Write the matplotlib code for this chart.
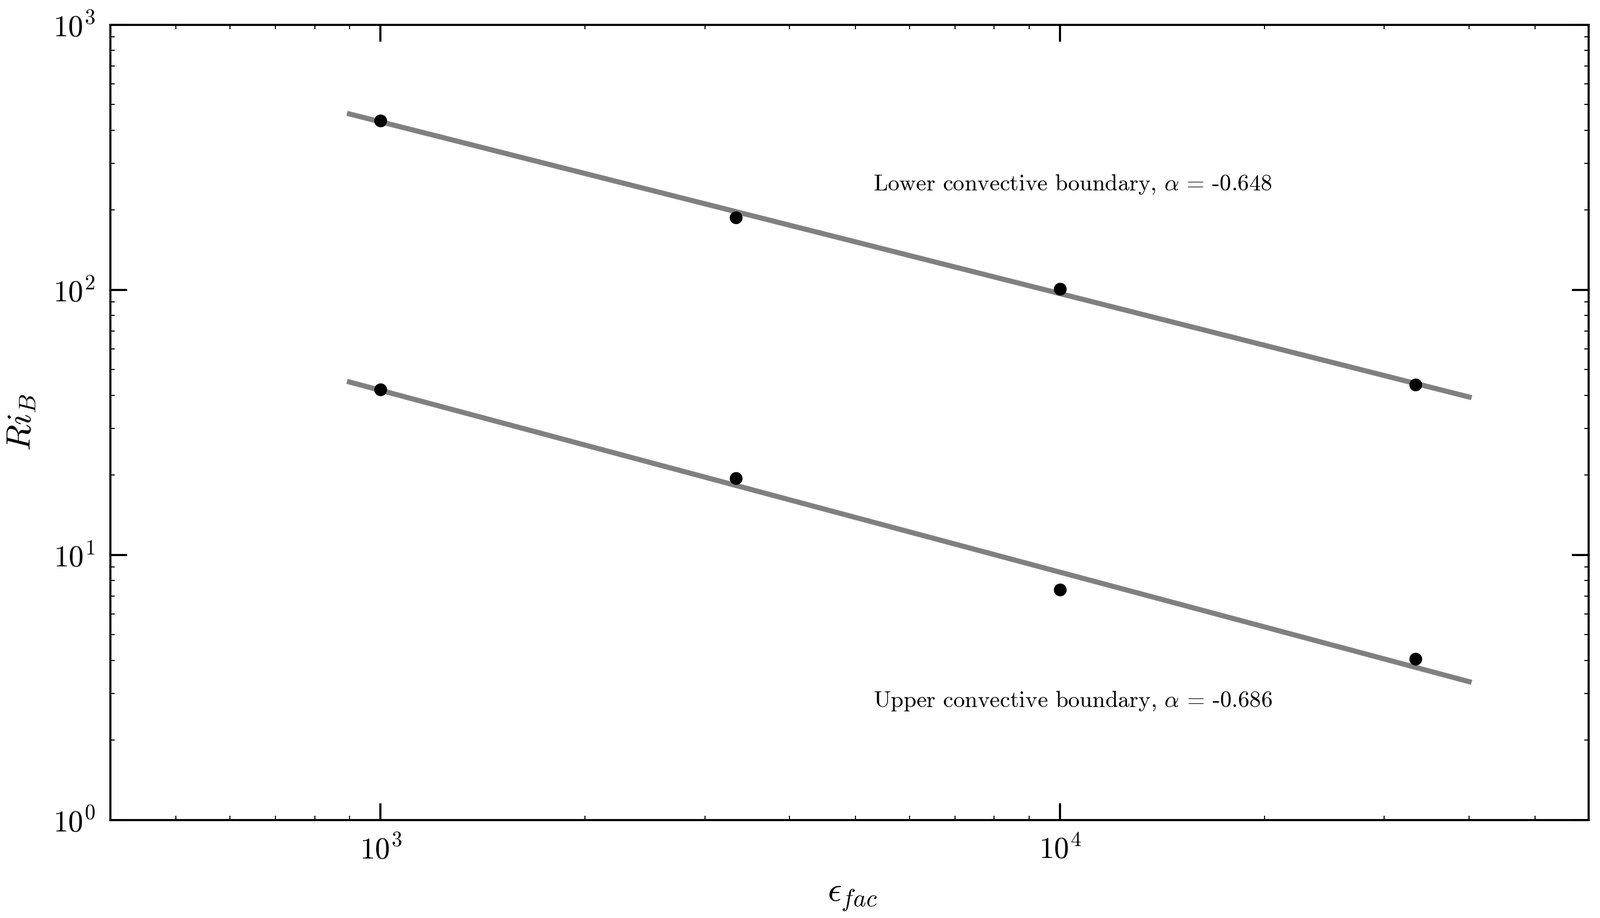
import numpy as np
import matplotlib
matplotlib.use("Agg")
import matplotlib.pyplot as plt
from matplotlib.ticker import LogLocator

plt.rcParams['mathtext.fontset'] = 'cm'
plt.rcParams['font.family'] = ['cmr10', 'DejaVu Serif']
plt.rcParams['axes.formatter.use_mathtext'] = True

# data
eps_fac = [1000, 3333, 10000, 33333]
ri_lower = [435, 188, 101, 44]
ri_upper = [42, 19.5, 7.4, 4.05]

# power-law fits  Ri = C * eps^alpha
alpha_lower = -0.648
C_lower = 37840
alpha_upper = -0.686
C_upper = 4775
fit_range = [900, 40000]

labels = [r'Lower convective boundary, $\alpha$ = -0.648',
          r'Upper convective boundary, $\alpha$ = -0.686']

fig = plt.figure(figsize=(14.785, 8.485), dpi=200)
ax = fig.add_axes([0.0689, 0.1067, 0.9241, 0.8663])

xf = np.logspace(np.log10(fit_range[0]), np.log10(fit_range[1]), 100)
ax.plot(xf, C_lower * xf**alpha_lower, color='#808080', lw=3.4, zorder=2)
ax.plot(xf, C_upper * xf**alpha_upper, color='#808080', lw=3.4, zorder=2)
ax.plot(eps_fac, ri_lower, 'o', color='black', ms=7.5, zorder=3)
ax.plot(eps_fac, ri_upper, 'o', color='black', ms=7.5, zorder=3)

ax.set_xscale('log')
ax.set_yscale('log')
ax.set_xlim(400, 60000)
ax.set_ylim(1, 1000)

ax.text(5310, 250, labels[0], fontsize=15.3, va='center', ha='left')
ax.text(5310, 2.8, labels[1], fontsize=15.3, va='center', ha='left')

ax.set_xlabel(r'$\epsilon_{fac}$', fontsize=23, va='center')
ax.xaxis.set_label_coords(0.502, -0.0974)
ax.set_ylabel(r'$Ri_B$', fontsize=23, va='center')
ax.yaxis.set_label_coords(-0.0594, 0.5)

for s in ax.spines.values():
    s.set_linewidth(1.4)
ax.tick_params(which='both', direction='in', top=True, right=True)
ax.tick_params(which='major', length=11, width=1.4, labelsize=20, pad=10)
ax.tick_params(which='minor', length=3, width=0.7)
ax.xaxis.set_minor_locator(LogLocator(base=10, subs=np.arange(2, 10)))
ax.yaxis.set_minor_locator(LogLocator(base=10, subs=np.arange(2, 10)))

fig.savefig('out.png', dpi=200)
